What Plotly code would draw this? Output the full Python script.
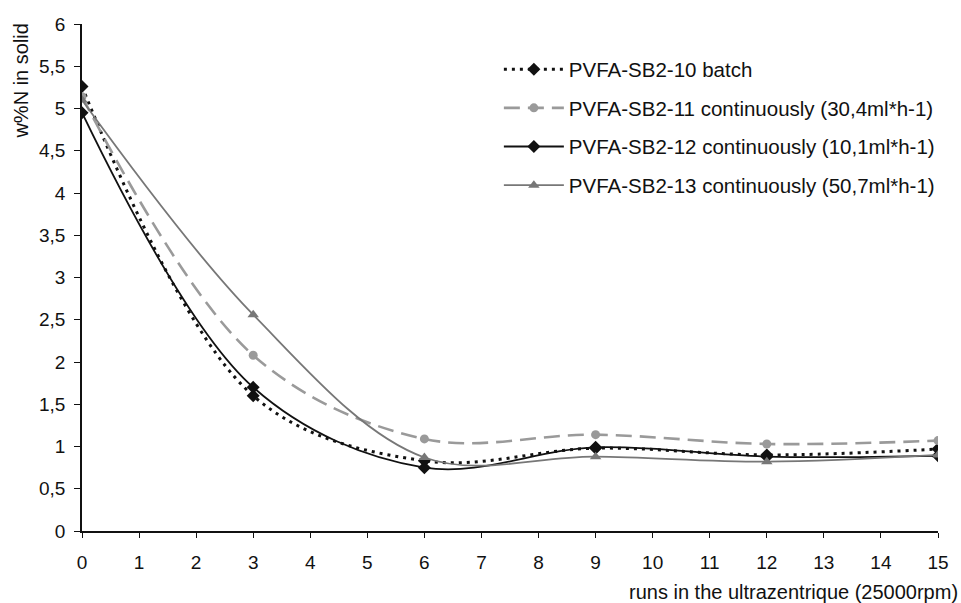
import plotly.graph_objects as go

runs = [0, 3, 6, 9, 12, 15]
batch_10 = [5.26, 1.60, 0.83, 0.98, 0.90, 0.97]
cont_11 = [5.14, 2.08, 1.09, 1.14, 1.03, 1.07]
cont_12 = [4.95, 1.70, 0.75, 0.99, 0.88, 0.89]
cont_13 = [5.10, 2.56, 0.87, 0.88, 0.82, 0.90]

names = [
    "PVFA-SB2-10 batch",
    "PVFA-SB2-11 continuously (30,4ml*h-1)",
    "PVFA-SB2-12 continuously (10,1ml*h-1)",
    "PVFA-SB2-13 continuously (50,7ml*h-1)",
]

x_ticks = list(range(0, 16))
y_ticks = [i * 0.5 for i in range(13)]
y_ticktext = [("%g" % v).replace(".", ",") for v in y_ticks]

FONT = "Liberation Sans, Arial, sans-serif"

fig = go.Figure()
styles = [
    (batch_10, dict(color="#111111", width=3, dash="3px,5px"), dict(symbol="diamond", size=10, color="#111111")),
    (cont_11, dict(color="#9a9a9a", width=2.6, dash="16px,8px"), dict(symbol="circle", size=9, color="#9a9a9a")),
    (cont_12, dict(color="#111111", width=1.8), dict(symbol="diamond", size=10, color="#111111")),
    (cont_13, dict(color="#777777", width=1.8), dict(symbol="triangle-up", size=10, color="#777777")),
]
for i, (vals, line, marker) in enumerate(styles):
    fig.add_trace(go.Scatter(
        x=runs, y=vals, name=names[i], mode="lines+markers",
        line=dict(shape="spline", smoothing=1.0, **line),
        marker=marker, legendgroup=str(i),
    ))

fig.update_layout(
    width=961, height=603,
    margin=dict(l=82, r=13, t=24, b=72),
    paper_bgcolor="white", plot_bgcolor="white",
    font=dict(family=FONT, size=19, color="#111111"),
    showlegend=True,
    legend=dict(
        x=0.487, y=0.95, xanchor="left", yanchor="top",
        bgcolor="rgba(0,0,0,0)", font=dict(size=20.5, family=FONT),
        traceorder="grouped", tracegroupgap=9, itemwidth=60,
    ),
    xaxis=dict(
        range=[0, 15], tickmode="array", tickvals=x_ticks,
        showline=True, linecolor="#111111", linewidth=1.5,
        ticks="outside", ticklen=5, tickcolor="#111111",
        showgrid=False, zeroline=False,
        tickfont=dict(size=19), ticklabelstandoff=8,
    ),
    yaxis=dict(
        range=[0, 6], tickmode="array", tickvals=y_ticks, ticktext=y_ticktext,
        showline=True, linecolor="#111111", linewidth=1.5,
        ticks="outside", ticklen=6, tickcolor="#111111",
        showgrid=False, zeroline=False,
        tickfont=dict(size=19), ticklabelstandoff=5,
    ),
    annotations=[
        dict(text="runs in the ultrazentrique (25000rpm)", xref="paper", yref="paper",
             x=1.0255, y=-0.12, xanchor="right", yanchor="middle", showarrow=False,
             font=dict(size=20, family=FONT)),
        dict(text="w%N in solid", xref="paper", yref="paper",
             x=-0.0715, y=0.888, xanchor="center", yanchor="middle", textangle=-90,
             showarrow=False, font=dict(size=20, family=FONT)),
    ],
)

fig.write_html("out.html")
